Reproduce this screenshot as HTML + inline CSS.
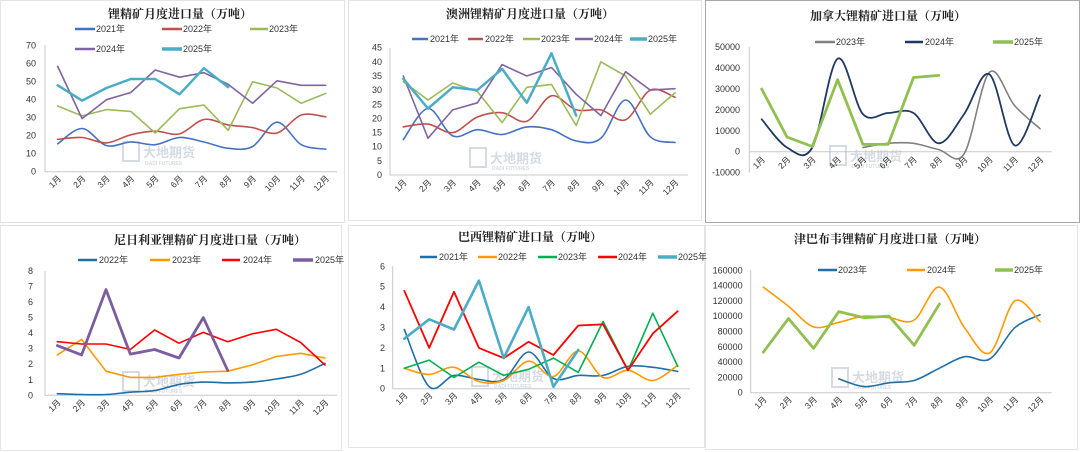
<!DOCTYPE html>
<html><head><meta charset="utf-8"><style>
html,body{margin:0;padding:0;background:#fff}
svg{display:block}
.t{font-family:"Liberation Serif","Noto Serif CJK SC",serif;font-weight:bold;font-size:12px;fill:#222;text-anchor:middle}
.l{font-family:"Liberation Sans","Noto Sans CJK SC",sans-serif;font-size:9px;fill:#333}
.y{font-family:"Liberation Sans","Noto Sans CJK SC",sans-serif;font-size:9px;fill:#333;text-anchor:end}
.x{font-family:"Liberation Sans","Noto Sans CJK SC",sans-serif;font-size:8.5px;fill:#333;text-anchor:end}
.w{font-family:"Liberation Sans","Noto Sans CJK SC",sans-serif;font-size:13px;fill:#d6dbe3;font-weight:bold}
.ws{font-family:"Liberation Sans",sans-serif;font-size:5px;fill:#d6dbe3;font-weight:bold}
</style></head><body>
<svg id="s" width="1080" height="452" viewBox="0 0 1080 452" xmlns="http://www.w3.org/2000/svg">
<g fill="none" stroke="#e4e4e4" stroke-width="1">
<rect x="0.5" y="0.5" width="344" height="222"/>
<rect x="348.5" y="0.5" width="353" height="220"/>
<rect x="0.5" y="225.5" width="341" height="225"/>
<rect x="348.5" y="225.5" width="356" height="222"/>
<rect x="705.5" y="225.5" width="372" height="224"/>
</g>
<rect x="705.5" y="0.5" width="374" height="222" fill="none" stroke="#a8a8a8"/>

<!-- watermarks -->
<g>
<rect x="123" y="142" width="16" height="19" fill="none" stroke="#d6dbe3" stroke-width="2"/>
<text class="w" x="143" y="157">大地期货</text><text class="ws" x="145" y="165">DADI FUTURES</text>
<rect x="470" y="148" width="16" height="19" fill="none" stroke="#d6dbe3" stroke-width="2"/>
<text class="w" x="490" y="163">大地期货</text><text class="ws" x="492" y="170">DADI FUTURES</text>
<rect x="830" y="146" width="16" height="19" fill="none" stroke="#d6dbe3" stroke-width="2"/>
<text class="w" x="850" y="161">大地期货</text><text class="ws" x="852" y="168">DADI FUTURES</text>
<rect x="123" y="372" width="16" height="19" fill="none" stroke="#d6dbe3" stroke-width="2"/>
<text class="w" x="143" y="386">大地期货</text><text class="ws" x="145" y="393">DADI FUTURES</text>
<rect x="472" y="367" width="16" height="19" fill="none" stroke="#d6dbe3" stroke-width="2"/>
<text class="w" x="492" y="381">大地期货</text><text class="ws" x="494" y="388">DADI FUTURES</text>
<rect x="832" y="368" width="16" height="19" fill="none" stroke="#d6dbe3" stroke-width="2"/>
<text class="w" x="852" y="382">大地期货</text><text class="ws" x="854" y="389">DADI FUTURES</text>
</g>

<!-- titles -->
<text class="t" x="180" y="18">锂精矿月度进口量（万吨）</text>
<text class="t" x="530" y="18">澳洲锂精矿月度进口量（万吨）</text>
<text class="t" x="888" y="20">加拿大锂精矿进口量（万吨）</text>
<text class="t" x="210" y="244">尼日利亚锂精矿月度进口量（万吨）</text>
<text class="t" x="530" y="241">巴西锂精矿进口量（万吨）</text>
<text class="t" x="890" y="243">津巴布韦锂精矿月度进口量（万吨）</text>

<!-- axes -->
<g stroke="#c8c8c8" stroke-width="1" fill="none">
<path d="M45 45V171.7H337"/>
<path d="M390 47.7V175H688"/>
<path d="M749.3 47V172.6M749.3 151.7H1051.7"/>
<path d="M45 271V395.3H337"/>
<path d="M392.7 266.3V388.7H690"/>
<path d="M750.7 270.3V392.7H1051.7"/>
</g>

<!-- legends -->
<g stroke-width="2.5">
<line x1="75" y1="29" x2="95" y2="29" stroke="#4472C4"/>
<line x1="162" y1="29" x2="182" y2="29" stroke="#C0504D"/>
<line x1="250" y1="29" x2="268" y2="29" stroke="#9BBB59"/>
<line x1="75" y1="49" x2="95" y2="49" stroke="#8064A2"/>
<line x1="162" y1="49" x2="182" y2="49" stroke="#4BACC6" stroke-width="3.5"/>
<line x1="412" y1="39" x2="428" y2="39" stroke="#4472C4"/>
<line x1="468" y1="39" x2="483" y2="39" stroke="#C0504D"/>
<line x1="523" y1="39" x2="540" y2="39" stroke="#9BBB59"/>
<line x1="575" y1="39" x2="593" y2="39" stroke="#8064A2"/>
<line x1="630" y1="39" x2="647" y2="39" stroke="#4BACC6" stroke-width="3.5"/>
<line x1="815" y1="42" x2="835" y2="42" stroke="#808080"/>
<line x1="905" y1="42" x2="923" y2="42" stroke="#1F3864"/>
<line x1="993" y1="42" x2="1013" y2="42" stroke="#92C050" stroke-width="3.5"/>
<line x1="78" y1="260" x2="97" y2="260" stroke="#1F6FA8"/>
<line x1="150" y1="260" x2="170" y2="260" stroke="#FF9900"/>
<line x1="222" y1="260" x2="240" y2="260" stroke="#FF0000"/>
<line x1="293" y1="260" x2="313" y2="260" stroke="#7B5DA0" stroke-width="3.5"/>
<line x1="420" y1="257" x2="437" y2="257" stroke="#1F6FA8"/>
<line x1="478" y1="257" x2="497" y2="257" stroke="#FF9900"/>
<line x1="538" y1="257" x2="557" y2="257" stroke="#00B050"/>
<line x1="598" y1="257" x2="617" y2="257" stroke="#FF0000"/>
<line x1="658" y1="257" x2="677" y2="257" stroke="#4BACC6" stroke-width="3.5"/>
<line x1="818" y1="270" x2="837" y2="270" stroke="#1F6FA8"/>
<line x1="907" y1="270" x2="925" y2="270" stroke="#FF9900"/>
<line x1="995" y1="270" x2="1013" y2="270" stroke="#92C050" stroke-width="3.5"/>
</g>
<g class="l">
<text class="l" x="96" y="32">2021年</text><text class="l" x="183" y="32">2022年</text><text class="l" x="269" y="32">2023年</text>
<text class="l" x="96" y="52">2024年</text><text class="l" x="183" y="52">2025年</text>
<text class="l" x="430" y="42">2021年</text><text class="l" x="485" y="42">2022年</text><text class="l" x="541" y="42">2023年</text><text class="l" x="594" y="42">2024年</text><text class="l" x="648" y="42">2025年</text>
<text class="l" x="836" y="45">2023年</text><text class="l" x="925" y="45">2024年</text><text class="l" x="1014" y="45">2025年</text>
<text class="l" x="99" y="263">2022年</text><text class="l" x="172" y="263">2023年</text><text class="l" x="243" y="263">2024年</text><text class="l" x="315" y="263">2025年</text>
<text class="l" x="439" y="260">2021年</text><text class="l" x="498" y="260">2022年</text><text class="l" x="558" y="260">2023年</text><text class="l" x="618" y="260">2024年</text><text class="l" x="678" y="260">2025年</text>
<text class="l" x="838" y="273">2023年</text><text class="l" x="927" y="273">2024年</text><text class="l" x="1014" y="273">2025年</text>
</g>

<!-- y ticks -->
<g>
<text class="y" x="36" y="174.7">0</text><text class="y" x="36" y="156.7">10</text><text class="y" x="36" y="138.7">20</text><text class="y" x="36" y="120.7">30</text><text class="y" x="36" y="102.7">40</text><text class="y" x="36" y="84.7">50</text><text class="y" x="36" y="66.7">60</text><text class="y" x="36" y="48.7">70</text>
<text class="y" x="382" y="178">0</text><text class="y" x="382" y="163.9">5</text><text class="y" x="382" y="149.7">10</text><text class="y" x="382" y="135.6">15</text><text class="y" x="382" y="121.4">20</text><text class="y" x="382" y="107.3">25</text><text class="y" x="382" y="93.1">30</text><text class="y" x="382" y="79">35</text><text class="y" x="382" y="64.8">40</text><text class="y" x="382" y="50.7">45</text>
<text class="y" x="740" y="175.6">-10000</text><text class="y" x="740" y="154.7">0</text><text class="y" x="740" y="133.8">10000</text><text class="y" x="740" y="112.9">20000</text><text class="y" x="740" y="92">30000</text><text class="y" x="740" y="71.1">40000</text><text class="y" x="740" y="50.2">50000</text>
<text class="y" x="33" y="398.3">0</text><text class="y" x="33" y="382.8">1</text><text class="y" x="33" y="367.2">2</text><text class="y" x="33" y="351.7">3</text><text class="y" x="33" y="336.1">4</text><text class="y" x="33" y="320.6">5</text><text class="y" x="33" y="305.1">6</text><text class="y" x="33" y="289.5">7</text><text class="y" x="33" y="274">8</text>
<text class="y" x="385" y="391.7">0</text><text class="y" x="385" y="371.3">1</text><text class="y" x="385" y="350.9">2</text><text class="y" x="385" y="330.5">3</text><text class="y" x="385" y="310.1">4</text><text class="y" x="385" y="289.7">5</text><text class="y" x="385" y="269.3">6</text>
<text class="y" x="742.7" y="395.7">0</text><text class="y" x="742.7" y="380.4">20000</text><text class="y" x="742.7" y="365.1">40000</text><text class="y" x="742.7" y="349.8">60000</text><text class="y" x="742.7" y="334.5">80000</text><text class="y" x="742.7" y="319.2">100000</text><text class="y" x="742.7" y="303.9">120000</text><text class="y" x="742.7" y="288.6">140000</text><text class="y" x="742.7" y="273.3">160000</text>
</g>

<!-- x ticks -->
<g>
<text class="x" transform="translate(61.7,179) rotate(-45)">1月</text><text class="x" transform="translate(86.1,179) rotate(-45)">2月</text><text class="x" transform="translate(110.4,179) rotate(-45)">3月</text><text class="x" transform="translate(134.8,179) rotate(-45)">4月</text><text class="x" transform="translate(159.1,179) rotate(-45)">5月</text><text class="x" transform="translate(183.5,179) rotate(-45)">6月</text><text class="x" transform="translate(207.9,179) rotate(-45)">7月</text><text class="x" transform="translate(232.2,179) rotate(-45)">8月</text><text class="x" transform="translate(256.6,179) rotate(-45)">9月</text><text class="x" transform="translate(280.9,179) rotate(-45)">10月</text><text class="x" transform="translate(305.3,179) rotate(-45)">11月</text><text class="x" transform="translate(329.7,179) rotate(-45)">12月</text>

<text class="x" transform="translate(407.3,183) rotate(-45)">1月</text><text class="x" transform="translate(432,183) rotate(-45)">2月</text><text class="x" transform="translate(456.7,183) rotate(-45)">3月</text><text class="x" transform="translate(481.4,183) rotate(-45)">4月</text><text class="x" transform="translate(506.1,183) rotate(-45)">5月</text><text class="x" transform="translate(530.8,183) rotate(-45)">6月</text><text class="x" transform="translate(555.5,183) rotate(-45)">7月</text><text class="x" transform="translate(580.2,183) rotate(-45)">8月</text><text class="x" transform="translate(604.9,183) rotate(-45)">9月</text><text class="x" transform="translate(629.6,183) rotate(-45)">10月</text><text class="x" transform="translate(654.3,183) rotate(-45)">11月</text><text class="x" transform="translate(679,183) rotate(-45)">12月</text>

<text class="x" transform="translate(765.7,160) rotate(-45)">1月</text><text class="x" transform="translate(791,160) rotate(-45)">2月</text><text class="x" transform="translate(816.3,160) rotate(-45)">3月</text><text class="x" transform="translate(841.6,160) rotate(-45)">4月</text><text class="x" transform="translate(866.9,160) rotate(-45)">5月</text><text class="x" transform="translate(892.2,160) rotate(-45)">6月</text><text class="x" transform="translate(917.5,160) rotate(-45)">7月</text><text class="x" transform="translate(942.8,160) rotate(-45)">8月</text><text class="x" transform="translate(968.1,160) rotate(-45)">9月</text><text class="x" transform="translate(993.4,160) rotate(-45)">10月</text><text class="x" transform="translate(1018.7,160) rotate(-45)">11月</text><text class="x" transform="translate(1044,160) rotate(-45)">12月</text>

<text class="x" transform="translate(61.3,403) rotate(-45)">1月</text><text class="x" transform="translate(85.6,403) rotate(-45)">2月</text><text class="x" transform="translate(110,403) rotate(-45)">3月</text><text class="x" transform="translate(134.3,403) rotate(-45)">4月</text><text class="x" transform="translate(158.7,403) rotate(-45)">5月</text><text class="x" transform="translate(183,403) rotate(-45)">6月</text><text class="x" transform="translate(207.3,403) rotate(-45)">7月</text><text class="x" transform="translate(231.7,403) rotate(-45)">8月</text><text class="x" transform="translate(256,403) rotate(-45)">9月</text><text class="x" transform="translate(280.4,403) rotate(-45)">10月</text><text class="x" transform="translate(304.7,403) rotate(-45)">11月</text><text class="x" transform="translate(329,403) rotate(-45)">12月</text>

<text class="x" transform="translate(408.3,396) rotate(-45)">1月</text><text class="x" transform="translate(433.2,396) rotate(-45)">2月</text><text class="x" transform="translate(458,396) rotate(-45)">3月</text><text class="x" transform="translate(482.9,396) rotate(-45)">4月</text><text class="x" transform="translate(507.7,396) rotate(-45)">5月</text><text class="x" transform="translate(532.6,396) rotate(-45)">6月</text><text class="x" transform="translate(557.4,396) rotate(-45)">7月</text><text class="x" transform="translate(582.3,396) rotate(-45)">8月</text><text class="x" transform="translate(607.1,396) rotate(-45)">9月</text><text class="x" transform="translate(632,396) rotate(-45)">10月</text><text class="x" transform="translate(656.8,396) rotate(-45)">11月</text><text class="x" transform="translate(681.7,396) rotate(-45)">12月</text>

<text class="x" transform="translate(767.3,400) rotate(-45)">1月</text><text class="x" transform="translate(792.5,400) rotate(-45)">2月</text><text class="x" transform="translate(817.6,400) rotate(-45)">3月</text><text class="x" transform="translate(842.8,400) rotate(-45)">4月</text><text class="x" transform="translate(867.9,400) rotate(-45)">5月</text><text class="x" transform="translate(893.1,400) rotate(-45)">6月</text><text class="x" transform="translate(918.2,400) rotate(-45)">7月</text><text class="x" transform="translate(943.4,400) rotate(-45)">8月</text><text class="x" transform="translate(968.5,400) rotate(-45)">9月</text><text class="x" transform="translate(993.7,400) rotate(-45)">10月</text><text class="x" transform="translate(1018.8,400) rotate(-45)">11月</text><text class="x" transform="translate(1044,400) rotate(-45)">12月</text>
</g>
<g id="lines" fill="none" stroke-linejoin="round" stroke-linecap="round"></g>
</svg>
<script>
(function(){
var g=document.getElementById('lines');
function path(c,data,start,smooth){
  var pts=[];
  for(var i=0;i<data.length;i++){pts.push([c.x1+(c.x12-c.x1)/11*(i+start), c.y0-c.k*data[i]]);}
  var d='M'+pts[0][0].toFixed(1)+' '+pts[0][1].toFixed(1);
  for(var i=1;i<pts.length;i++){
    if(!smooth){d+='L'+pts[i][0].toFixed(1)+' '+pts[i][1].toFixed(1);continue;}
    var p0=pts[i-2]||pts[i-1],p1=pts[i-1],p2=pts[i],p3=pts[i+1]||p2;
    var c1x=p1[0]+(p2[0]-p0[0])/6,c1y=p1[1]+(p2[1]-p0[1])/6,c2x=p2[0]-(p3[0]-p1[0])/6,c2y=p2[1]-(p3[1]-p1[1])/6;
    d+='C'+c1x.toFixed(1)+' '+c1y.toFixed(1)+' '+c2x.toFixed(1)+' '+c2y.toFixed(1)+' '+p2[0].toFixed(1)+' '+p2[1].toFixed(1);
  }
  return d;
}
function add(c,data,col,w,smooth,start){
  var p=document.createElementNS('http://www.w3.org/2000/svg','path');
  p.setAttribute('d',path(c,data,start||0,smooth));p.setAttribute('stroke',col);p.setAttribute('stroke-width',w);g.appendChild(p);
}
var C1={x1:57.7,x12:325.7,y0:171.7,k:1.8};
add(C1,[15.5,24,14.5,16.5,15,19,16.5,13,14,27.5,15,12.5],'#4472C4',1.6,true);
add(C1,[18,19,16,20.5,22.5,21,29,26,24.5,21.5,31.5,30.5],'#C0504D',1.6,true);
add(C1,[36.5,31,34.5,33.5,21.5,35,37,23,50,46.5,38,43.5],'#9BBB59',1.6,false);
add(C1,[58.5,29.5,40,44,56.5,52.5,55,48.5,38,50.5,48,48],'#8064A2',1.6,false);
add(C1,[48,39.5,46.5,51.5,51.5,43,57.5,47],'#4BACC6',2.5,false);
var C2={x1:403.3,x12:675,y0:175,k:2.83};
add(C2,[12.5,23.5,13.8,16,14.3,17,16,12,13,26.5,13.5,11.5],'#4472C4',1.6,true);
add(C2,[17,18,15,20.5,22,19,28,23,23,19.5,30,27.5],'#C0504D',1.6,true);
add(C2,[33,26.5,32.5,29.5,18.5,31,32,17.5,40,35,21.5,29],'#9BBB59',1.6,false);
add(C2,[35,13,23,25.5,39,35,38,28.5,21,36.5,30,30.5],'#8064A2',1.6,false);
add(C2,[34,23.5,31,30,37.5,25.5,43,21],'#4BACC6',2.5,false);
var C3={x1:761.7,x12:1040,y0:151.7,k:2.09};
add(C3,[2,4,4,1,-1,38,22,11],'#808080',1.6,true,4);
add(C3,[15.5,2,2,44.5,18,18.5,18.5,4,18,37,3,27],'#1F3864',1.8,true);
add(C3,[30,7,2.5,34.5,3.5,3.5,35.5,36.5],'#92C050',2.8,false);
var C4={x1:57.3,x12:325,y0:395.3,k:15.54};
add(C4,[0.1,0.05,0.05,0.2,0.3,0.7,0.85,0.8,0.85,1.05,1.35,2.05],'#1F6FA8',1.6,true);
add(C4,[2.6,3.6,1.55,1.15,1.15,1.35,1.5,1.55,1.95,2.5,2.7,2.4],'#FF9900',1.6,false);
add(C4,[3.45,3.3,3.3,2.95,4.2,3.35,4.05,3.45,3.95,4.25,3.4,1.95],'#FF0000',1.6,false);
add(C4,[3.2,2.6,6.8,2.65,2.95,2.4,5.0,1.6],'#7B5DA0',2.8,false);
var C5={x1:404.3,x12:677.7,y0:388.7,k:20.4};
add(C5,[2.9,0.1,0.65,0.45,0.45,1.8,0.5,0.65,0.65,1.1,1.05,0.85],'#1F6FA8',1.6,true);
add(C5,[1.0,0.7,1.05,0.35,0.4,1.35,0.6,1.85,0.55,0.9,0.4,1.15],'#FF9900',1.6,true);
add(C5,[1.0,1.4,0.55,1.3,0.65,0.95,1.5,0.8,3.3,0.9,3.7,1.1],'#00B050',1.6,false);
add(C5,[4.8,2.0,4.75,2.0,1.5,2.3,1.65,3.1,3.15,0.9,2.7,3.8],'#FF0000',1.8,false);
add(C5,[2.45,3.4,2.9,5.3,1.5,4.0,0.1,1.9],'#4BACC6',2.6,false);
var C6={x1:763.3,x12:1040,y0:392.7,k:0.765};
add(C6,[18,8,13,16,32,47,44,85,102],'#1F6FA8',1.6,true,3);
add(C6,[138,113,86,92,100,98,95,138,85,52,120,93],'#FF9900',1.6,true);
add(C6,[53,97,58,106,98,100,62,116],'#92C050',2.8,false);
})();
</script>
</body></html>
